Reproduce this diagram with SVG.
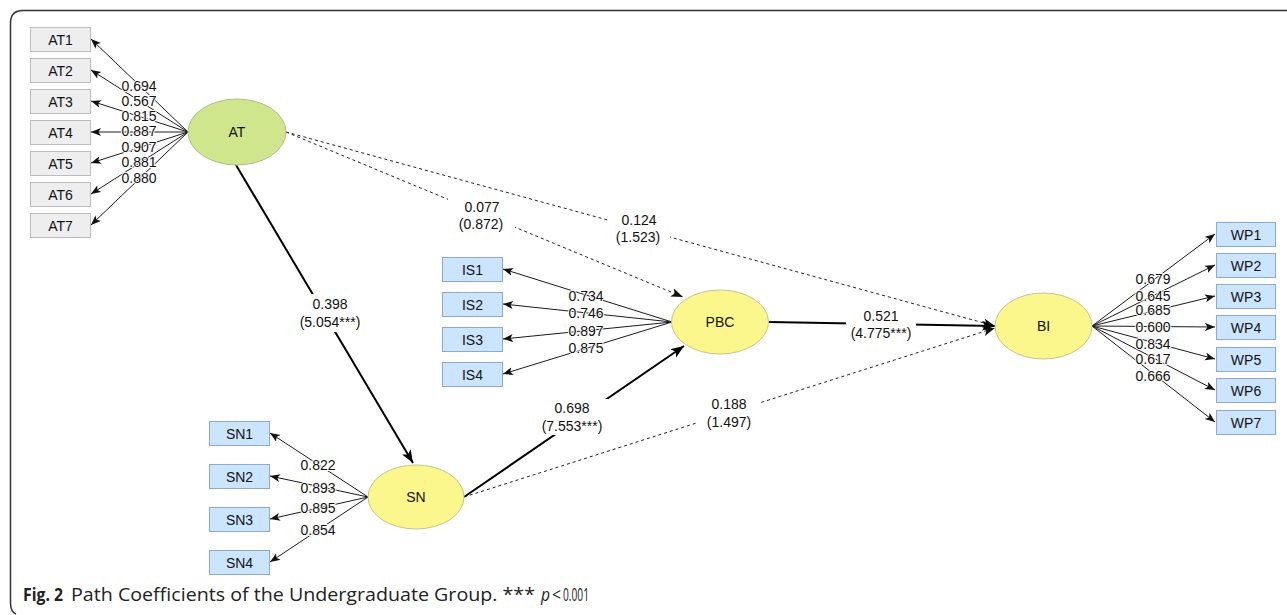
<svg xmlns="http://www.w3.org/2000/svg" width="1287" height="615" viewBox="0 0 1287 615">
<style>
text{font-family:"Liberation Sans",Arial,sans-serif;font-size:14px;fill:#111}
.nt{text-anchor:middle;dominant-baseline:central}
.lb{text-anchor:middle;paint-order:stroke;stroke:#fff;stroke-width:2px;stroke-linejoin:round}
.pl{text-anchor:middle}
.gray{fill:#eeeeee;stroke:#bdbdbd;stroke-width:1}
.blue{fill:#cce5ff;stroke:#8ea9c9;stroke-width:1}
.green{fill:#cfe68c;stroke:#aebe8a;stroke-width:1}
.yellow{fill:#fcf78c;stroke:#c9c38a;stroke-width:1}
.ld{stroke:#1a1a1a;stroke-width:1;fill:none;marker-end:url(#sa)}
.sp{stroke:#000;stroke-width:2;fill:none;marker-end:url(#ba)}
.dp{stroke:#222;stroke-width:1;stroke-dasharray:3 3;fill:none;marker-end:url(#da)}
.cap{font-family:"Open Sans","Noto Sans","Liberation Sans",sans-serif;font-size:18.5px;fill:#222}
</style>
<defs>
<marker id="sa" markerUnits="userSpaceOnUse" markerWidth="12" markerHeight="10" refX="10" refY="4" orient="auto"><path d="M0,0 L10,4 L0,8 L2.5,4 z" fill="#111"/></marker>
<marker id="ba" markerUnits="userSpaceOnUse" markerWidth="14" markerHeight="12" refX="13" refY="5" orient="auto"><path d="M0,0 L13,5 L0,10 L3,5 z" fill="#000"/></marker>
<marker id="da" markerUnits="userSpaceOnUse" markerWidth="14" markerHeight="12" refX="12" refY="4.5" orient="auto"><path d="M0,0 L12,4.5 L0,9 L3,4.5 z" fill="#111"/></marker>
</defs>
<rect width="1287" height="615" fill="#fff"/>
<path d="M1287,10.5 H23 Q10.5,10.5 10.5,23 V603 Q10.5,612 16,614" fill="none" stroke="#333" stroke-width="1.5"/>

<g id="connectors">
<line class="ld" x1="188" y1="132" x2="91" y2="39"/>
<line class="ld" x1="188" y1="132" x2="91" y2="70"/>
<line class="ld" x1="188" y1="132" x2="91" y2="101"/>
<line class="ld" x1="188" y1="132" x2="91" y2="132"/>
<line class="ld" x1="188" y1="132" x2="91" y2="163"/>
<line class="ld" x1="188" y1="132" x2="91" y2="194"/>
<line class="ld" x1="188" y1="132" x2="91" y2="225"/>
<line class="ld" x1="368" y1="497" x2="270" y2="433"/>
<line class="ld" x1="368" y1="497" x2="270" y2="476"/>
<line class="ld" x1="368" y1="497" x2="270" y2="519"/>
<line class="ld" x1="368" y1="497" x2="270" y2="562"/>
<line class="ld" x1="672" y1="322" x2="503" y2="269"/>
<line class="ld" x1="672" y1="322" x2="503" y2="304"/>
<line class="ld" x1="672" y1="322" x2="503" y2="339"/>
<line class="ld" x1="672" y1="322" x2="503" y2="374"/>
<line class="ld" x1="1092" y1="326" x2="1215" y2="234"/>
<line class="ld" x1="1092" y1="326" x2="1215" y2="265"/>
<line class="ld" x1="1092" y1="326" x2="1215" y2="296"/>
<line class="ld" x1="1092" y1="326" x2="1215" y2="327"/>
<line class="ld" x1="1092" y1="326" x2="1215" y2="359"/>
<line class="ld" x1="1092" y1="326" x2="1215" y2="390"/>
<line class="ld" x1="1092" y1="326" x2="1215" y2="422"/>
<line class="dp" x1="286" y1="132" x2="683" y2="297"/>
<line class="dp" x1="286" y1="132" x2="995" y2="326"/>
<line class="dp" x1="464" y1="497" x2="995" y2="328"/>
<line class="sp" x1="236" y1="165" x2="413" y2="463"/>
<line class="sp" x1="464" y1="497" x2="684" y2="346"/>
<line class="sp" x1="769" y1="322" x2="995" y2="326"/>
<g fill="#fff">
<rect x="296" y="294" width="68" height="38"/>
<rect x="538" y="399" width="70" height="36"/>
<rect x="846" y="307" width="70" height="34"/>
<rect x="448" y="198" width="67" height="34"/>
<rect x="608" y="210" width="62" height="35"/>
<rect x="698" y="396" width="62" height="34"/>
</g>
<text class="pl" x="330" y="309">0.398</text>
<text class="pl" x="330" y="327">(5.054***)</text>
<text class="pl" x="572" y="413">0.698</text>
<text class="pl" x="572" y="431">(7.553***)</text>
<text class="pl" x="881" y="321">0.521</text>
<text class="pl" x="881" y="338">(4.775***)</text>
<text class="pl" x="482" y="212">0.077</text>
<text class="pl" x="481" y="229">(0.872)</text>
<text class="pl" x="639" y="225">0.124</text>
<text class="pl" x="638" y="242">(1.523)</text>
<text class="pl" x="729" y="409">0.188</text>
<text class="pl" x="729" y="427">(1.497)</text>
<text class="lb" x="139" y="91">0.694</text>
<text class="lb" x="139" y="106">0.567</text>
<text class="lb" x="139" y="121">0.815</text>
<text class="lb" x="139" y="136">0.887</text>
<text class="lb" x="139" y="152">0.907</text>
<text class="lb" x="139" y="167">0.881</text>
<text class="lb" x="139" y="183">0.880</text>
<text class="lb" x="318" y="470">0.822</text>
<text class="lb" x="318" y="493">0.893</text>
<text class="lb" x="318" y="513">0.895</text>
<text class="lb" x="318" y="535">0.854</text>
<text class="lb" x="586" y="301">0.734</text>
<text class="lb" x="586" y="318">0.746</text>
<text class="lb" x="586" y="336">0.897</text>
<text class="lb" x="586" y="353">0.875</text>
<text class="lb" x="1153" y="284">0.679</text>
<text class="lb" x="1153" y="301">0.645</text>
<text class="lb" x="1153" y="315">0.685</text>
<text class="lb" x="1153" y="332">0.600</text>
<text class="lb" x="1153" y="349">0.834</text>
<text class="lb" x="1153" y="364">0.617</text>
<text class="lb" x="1153" y="381">0.666</text>
</g>

<g id="AT"><ellipse class="green" cx="237" cy="132" rx="49" ry="33"/><text class="nt" x="237" y="132">AT</text></g>
<g id="SN"><ellipse class="yellow" cx="416" cy="497" rx="48" ry="32"/><text class="nt" x="416" y="497">SN</text></g>
<g id="PBC"><ellipse class="yellow" cx="720" cy="322" rx="48.5" ry="32"/><text class="nt" x="720" y="322">PBC</text></g>
<g id="BI"><ellipse class="yellow" cx="1043.5" cy="326" rx="48.5" ry="33"/><text class="nt" x="1043.5" y="326">BI</text></g>

<g id="AT1"><rect class="gray" x="30.5" y="27.5" width="60" height="24"/><text class="nt" x="60.5" y="39.5">AT1</text></g>
<g id="AT2"><rect class="gray" x="30.5" y="58.5" width="60" height="24"/><text class="nt" x="60.5" y="70.5">AT2</text></g>
<g id="AT3"><rect class="gray" x="30.5" y="89.5" width="60" height="24"/><text class="nt" x="60.5" y="101.5">AT3</text></g>
<g id="AT4"><rect class="gray" x="30.5" y="120.5" width="60" height="24"/><text class="nt" x="60.5" y="132.5">AT4</text></g>
<g id="AT5"><rect class="gray" x="30.5" y="151.5" width="60" height="24"/><text class="nt" x="60.5" y="163.5">AT5</text></g>
<g id="AT6"><rect class="gray" x="30.5" y="182.5" width="60" height="24"/><text class="nt" x="60.5" y="194.5">AT6</text></g>
<g id="AT7"><rect class="gray" x="30.5" y="213.5" width="60" height="24"/><text class="nt" x="60.5" y="225.5">AT7</text></g>

<g id="SN1"><rect class="blue" x="209.5" y="421.5" width="60" height="24"/><text class="nt" x="239.5" y="433.5">SN1</text></g>
<g id="SN2"><rect class="blue" x="209.5" y="464.5" width="60" height="24"/><text class="nt" x="239.5" y="476.5">SN2</text></g>
<g id="SN3"><rect class="blue" x="209.5" y="507.5" width="60" height="24"/><text class="nt" x="239.5" y="519.5">SN3</text></g>
<g id="SN4"><rect class="blue" x="209.5" y="550.5" width="60" height="24"/><text class="nt" x="239.5" y="562.5">SN4</text></g>

<g id="IS1"><rect class="blue" x="442.5" y="257.5" width="60" height="24"/><text class="nt" x="472.5" y="269.5">IS1</text></g>
<g id="IS2"><rect class="blue" x="442.5" y="292.5" width="60" height="24"/><text class="nt" x="472.5" y="304.5">IS2</text></g>
<g id="IS3"><rect class="blue" x="442.5" y="327.5" width="60" height="24"/><text class="nt" x="472.5" y="339.5">IS3</text></g>
<g id="IS4"><rect class="blue" x="442.5" y="362.5" width="60" height="24"/><text class="nt" x="472.5" y="374.5">IS4</text></g>

<g id="WP1"><rect class="blue" x="1216.5" y="222.5" width="59" height="24"/><text class="nt" x="1246" y="234.5">WP1</text></g>
<g id="WP2"><rect class="blue" x="1216.5" y="253.5" width="59" height="24"/><text class="nt" x="1246" y="265.5">WP2</text></g>
<g id="WP3"><rect class="blue" x="1216.5" y="284.5" width="59" height="24"/><text class="nt" x="1246" y="296.5">WP3</text></g>
<g id="WP4"><rect class="blue" x="1216.5" y="315.5" width="59" height="24"/><text class="nt" x="1246" y="327.5">WP4</text></g>
<g id="WP5"><rect class="blue" x="1216.5" y="347.5" width="59" height="24"/><text class="nt" x="1246" y="359.5">WP5</text></g>
<g id="WP6"><rect class="blue" x="1216.5" y="378.5" width="59" height="24"/><text class="nt" x="1246" y="390.5">WP6</text></g>
<g id="WP7"><rect class="blue" x="1216.5" y="410.5" width="59" height="24"/><text class="nt" x="1246" y="422.5">WP7</text></g>

<g id="caption">
<text class="cap" x="23" y="601" font-weight="bold" textLength="40" lengthAdjust="spacingAndGlyphs">Fig. 2</text>
<text class="cap" x="71" y="601" textLength="464" lengthAdjust="spacingAndGlyphs">Path Coefficients of the Undergraduate Group. ***</text>
<text class="cap" x="541" y="601" font-style="italic" textLength="9" lengthAdjust="spacingAndGlyphs">p</text>
<text class="cap" x="552" y="601" textLength="9" lengthAdjust="spacingAndGlyphs">&lt;</text>
<text class="cap" x="563" y="601" textLength="26" lengthAdjust="spacingAndGlyphs">0.001</text>
</g>
</svg>
